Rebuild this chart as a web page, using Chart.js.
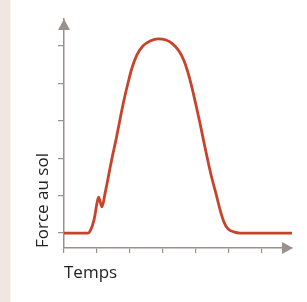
<!DOCTYPE html>
<html>
<head>
<meta charset="utf-8">
<script src="https://cdn.jsdelivr.net/npm/chart.js@4"></script>
<style>
  html, body { margin: 0; padding: 0; }
  body {
    width: 307px; height: 302px; overflow: hidden;
    background: linear-gradient(to right, #efe7e1 0px, #efe7e1 10px, #ffffff 11px);
  }
  canvas { display: block; }
</style>
</head>
<body>
<canvas id="js--chart" width="307" height="302"></canvas>
<script>
/* force au sol over time (axis units = tick spacing) */
const tempsX = [0, 0.73, 0.79, 0.91, 1.00, 1.05, 1.09, 1.15, 1.24, 1.33, 1.45, 1.58, 1.70, 1.82, 1.94, 2.06, 2.21,
    2.39, 2.61, 2.85, 3.09, 3.30, 3.48, 3.64, 3.76, 3.88, 4.00, 4.12, 4.24, 4.36, 4.48, 4.61, 4.73, 4.85,
    4.97, 5.15, 5.33, 6.91];
const forceY = [0, 0, 0.05, 0.35, 0.80, 0.96, 0.86, 0.70, 1.04, 1.44, 1.98, 2.51, 3.05, 3.56, 4.01, 4.41, 4.76,
    5.00, 5.13, 5.19, 5.16, 5.05, 4.87, 4.60, 4.28, 3.88, 3.42, 2.94, 2.43, 1.93, 1.47, 1.04, 0.62, 0.29,
    0.11, 0.03, 0, 0];
const xTicks = [0, 1, 2, 3, 4, 5, 6];
const yTicks = [0, 1, 2, 3, 4, 5];

const axisColor = "#9b918c";
const lineColor = "#c8432b";

const points = tempsX.map(function (x, i) {
    return { x: x, y: forceY[i] };
});

// pijltjes aan het eind van de assen
const arrowPlugin = {
    id: "arrows",
    afterDraw: function (chart) {
        const ctx = chart.ctx;
        const area = chart.chartArea;
        ctx.save();
        ctx.fillStyle = axisColor;
        // y as
        ctx.beginPath();
        ctx.moveTo(area.left, area.top);
        ctx.lineTo(area.left - 6, area.top + 11);
        ctx.lineTo(area.left + 6, area.top + 11);
        ctx.closePath();
        ctx.fill();
        // x as
        ctx.beginPath();
        ctx.moveTo(area.right + 1, area.bottom);
        ctx.lineTo(area.right - 10, area.bottom - 6);
        ctx.lineTo(area.right - 10, area.bottom + 6);
        ctx.closePath();
        ctx.fill();
        ctx.restore();
    }
};

new Chart(document.getElementById("js--chart"), {
    type: "line",
    data: {
        datasets: [{
            data: points,
            borderColor: lineColor,
            borderWidth: 2.8,
            pointRadius: 0,
            cubicInterpolationMode: "monotone",
            fill: false
        }]
    },
    options: {
        responsive: false,
        animation: false,
        layout: { padding: { top: 19, right: 15, left: 0, bottom: 0 } },
        plugins: { legend: { display: false }, tooltip: { enabled: false } },
        scales: {
            x: {
                type: "linear",
                min: 0,
                max: 6.91,
                afterBuildTicks: function (axis) {
                    axis.ticks = xTicks.map(function (v) { return { value: v }; });
                },
                afterFit: function (scale) { scale.height = 54; },
                ticks: { display: false },
                grid: { drawOnChartArea: false, drawTicks: true, tickLength: 5, color: axisColor, lineWidth: 1.2 },
                border: { display: true, color: axisColor, width: 1.5 },
                title: {
                    display: true,
                    text: "Temps",
                    align: "start",
                    color: "#222",
                    font: { family: "Open Sans", size: 17 },
                    padding: { top: 0, bottom: 19 }
                }
            },
            y: {
                type: "linear",
                min: -0.4,
                max: 5.72,
                afterBuildTicks: function (axis) {
                    axis.ticks = yTicks.map(function (v) { return { value: v }; });
                },
                afterFit: function (scale) { scale.width = 64; },
                ticks: { display: false },
                grid: { drawOnChartArea: false, drawTicks: true, tickLength: 6, color: axisColor, lineWidth: 1.2 },
                border: { display: true, color: axisColor, width: 1.5 },
                title: {
                    display: true,
                    text: "Force au sol",
                    align: "start",
                    color: "#222",
                    font: { family: "Open Sans", size: 17 },
                    padding: { top: 33, bottom: 0 }
                }
            }
        }
    },
    plugins: [arrowPlugin]
});
</script>
</body>
</html>
